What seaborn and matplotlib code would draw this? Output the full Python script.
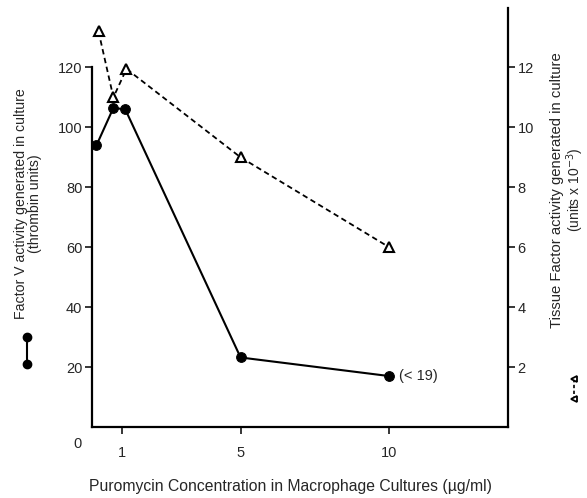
import matplotlib
matplotlib.use("Agg")
import matplotlib.pyplot as plt
import seaborn as sns
import pandas as pd
from matplotlib.lines import Line2D

# puromycin concentration (ug/ml)
factor_v_conc = [0.15, 0.72, 1.12, 5.0, 10.0]
factor_v_units = [94, 106.5, 106, 23.2, 17.0]   # thrombin units

tissue_conc = [0.22, 0.72, 1.16, 5.0, 10.0]
tissue_units = [13.2, 11.0, 11.95, 9.0, 6.0]    # units x 10^-3

x_ticks = [1, 5, 10]
left_ticks = [20, 40, 60, 80, 100, 120]
right_ticks = [2, 4, 6, 8, 10, 12]

sns.set_style("ticks")
plt.rcParams["font.family"] = ["Liberation Sans", "DejaVu Sans"]

df_v = pd.DataFrame({"conc": factor_v_conc, "val": factor_v_units})
df_t = pd.DataFrame({"conc": tissue_conc, "val": tissue_units})

fig = plt.figure(figsize=(5.87, 4.98), dpi=100)
ax = fig.add_axes([92 / 587, 1 - 427 / 498, (508 - 92) / 587, (427 - 7.5) / 498])
ax2 = ax.twinx()

sns.lineplot(data=df_v, x="conc", y="val", ax=ax, color="black", lw=1.5,
             marker="o", markersize=7, markeredgecolor="black", sort=False,
             clip_on=False)
sns.lineplot(data=df_t, x="conc", y="val", ax=ax2, color="black", lw=1.3,
             linestyle=(0, (3, 2)), marker="^", markersize=6.5,
             markerfacecolor="white", markeredgecolor="black",
             markeredgewidth=1.5, sort=False, clip_on=False)

ax.set_xlim(0, 14)
ax.set_ylim(0, 140)
ax2.set_ylim(0, 14)

ax.set_xticks(x_ticks)
ax.set_xticklabels([str(t) for t in x_ticks])
ax.set_yticks(left_ticks)
ax2.set_yticks(right_ticks)

for s in ["top", "right"]:
    ax.spines[s].set_visible(False)
for s in ["top", "left", "bottom"]:
    ax2.spines[s].set_visible(False)
ax.spines["left"].set_bounds(0, 120)
for sp in [ax.spines["left"], ax.spines["bottom"], ax2.spines["right"]]:
    sp.set_linewidth(1.6)
    sp.set_color("black")

ax.tick_params(axis="y", length=5, width=1.3, pad=2, labelsize=10.5)
ax.tick_params(axis="x", length=5, width=1.3, pad=9, labelsize=10.5)
ax2.tick_params(axis="y", length=5, width=1.3, pad=2, labelsize=10.5)

ax.set_xlabel("")
ax.set_ylabel("")
ax2.set_ylabel("")

fig.text(290 / 587, 1 - 486 / 498, "Puromycin Concentration in Macrophage Cultures (µg/ml)",
         ha="center", va="center", fontsize=11.3)
fig.text(77 / 587, 1 - 444 / 498, "0", ha="center", va="center", fontsize=10.5)

fig.text(21 / 587, 1 - 204 / 498, "Factor V activity generated in culture",
         rotation=90, ha="center", va="center", fontsize=10.2)
fig.text(35 / 587, 1 - 204 / 498, "(thrombin units)",
         rotation=90, ha="center", va="center", fontsize=10.2)
fig.text(557 / 587, 1 - 190 / 498, "Tissue Factor activity generated in culture",
         rotation=90, ha="center", va="center", fontsize=10.7)
fig.text(575 / 587, 1 - 190 / 498, "(units x 10$^{-3}$)",
         rotation=90, ha="center", va="center", fontsize=10)

ax.annotate("(< 19)", xy=(factor_v_conc[-1], factor_v_units[-1]),
            xytext=(7, 0), textcoords="offset points", va="center", fontsize=10.5)

# key glyphs beside the axis titles
fig.add_artist(Line2D([27 / 587, 27 / 587], [1 - 337 / 498, 1 - 364 / 498],
                      transform=fig.transFigure, color="black", lw=1.5,
                      marker="o", markersize=6))
fig.add_artist(Line2D([574 / 587, 574 / 587], [1 - 379 / 498, 1 - 399 / 498],
                      transform=fig.transFigure, color="black", lw=1.2,
                      linestyle=(0, (2, 1.5)), marker="<", markersize=5,
                      markerfacecolor="white", markeredgewidth=1.3))

fig.savefig("out.png", dpi=100)
